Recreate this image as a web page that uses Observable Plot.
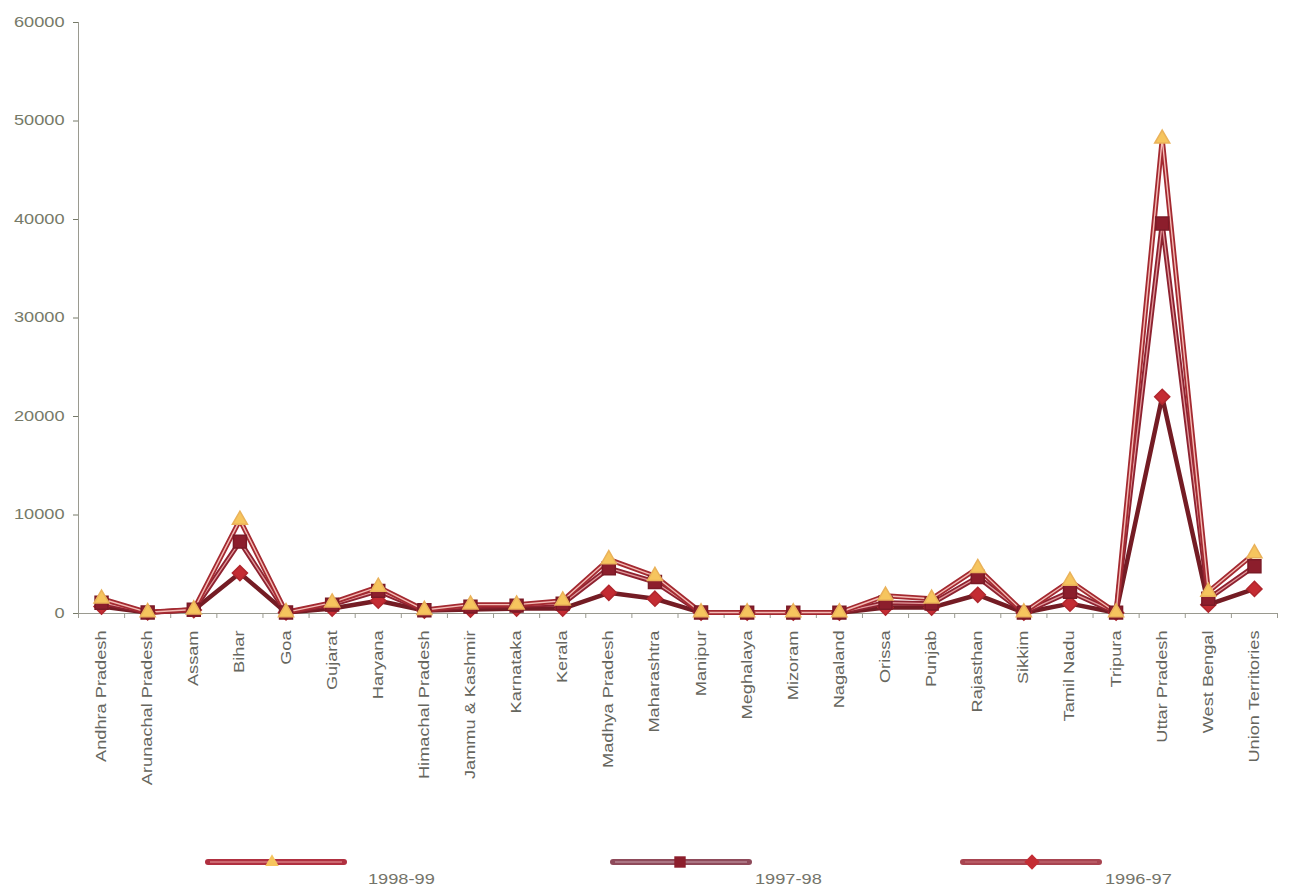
<!DOCTYPE html>
<html><head><meta charset="utf-8">
<script src="https://cdn.jsdelivr.net/npm/d3@7"></script>
<script src="https://cdn.jsdelivr.net/npm/@observablehq/plot@0.6"></script>
<style>
body{margin:0;background:#fff;font-family:"Liberation Sans",Arial,sans-serif;}
#legend{position:relative;height:55px;width:1289px}
.item{position:absolute;top:10px;height:45px}
.item span{position:absolute;top:21px;font-size:14px;color:#74746a;white-space:nowrap;transform:scaleX(1.3);transform-origin:0 50%}
</style></head><body><div id="chart"></div><div id="legend"></div>
<script>
const states = ["Andhra Pradesh","Arunachal Pradesh","Assam","Bihar","Goa","Gujarat","Haryana","Himachal Pradesh","Jammu & Kashmir","Karnataka","Kerala","Madhya Pradesh","Maharashtra","Manipur","Meghalaya","Mizoram","Nagaland","Orissa","Punjab","Rajasthan","Sikkim","Tamil Nadu","Tripura","Uttar Pradesh","West Bengal","Union Territories"];
const seriesNames = ["1998-99","1997-98","1996-97"];
const v1998 = [1500,120,400,9500,120,1100,2700,350,900,900,1300,5500,3800,100,100,100,100,1800,1500,4600,100,3300,100,48200,2200,6100];
const v1997 = [1100,110,380,7300,110,900,2300,330,700,800,1000,4600,3200,100,90,90,90,1100,1000,3700,90,2200,90,39600,1500,4800];
const v1996 = [700,100,350,4100,100,500,1300,300,400,500,500,2100,1500,90,80,80,80,600,600,1900,80,1000,80,22000,900,2500];
const yTicks = [0,10000,20000,30000,40000,50000,60000];
const values = [v1998, v1997, v1996];
</script>
<script>
const cats = states;
const data = seriesNames.flatMap((s,k)=>cats.map((st,i)=>({series:s,state:st,i,value:values[k][i]})));
const d98 = data.filter(d=>d.series===seriesNames[0]);
const d97 = data.filter(d=>d.series===seriesNames[1]);
const d96 = data.filter(d=>d.series===seriesNames[2]);
const n = cats.length;
const chart = Plot.plot({
  width:1289, height:840, marginLeft:78, marginRight:12, marginTop:22, marginBottom:227,
  style:{fontFamily:'"Liberation Sans",Arial,sans-serif', background:"#fff"},
  x:{domain:[-0.5, n-0.5], label:null},
  y:{domain:[0,60000], label:null},
  marks:[
    Plot.ruleY([0],{stroke:"#9a9a90"}),
    Plot.ruleX([-0.5],{stroke:"#9a9a90"}),
    Plot.axisY({ticks:yTicks, tickSize:5, tickPadding:9, fontSize:14, color:"#767a68", label:null, tickFormat:d=>String(d)}),
    Plot.axisX({ticks:d3.range(n), tickSize:0, tickPadding:17, tickRotate:-90, fontSize:14, color:"#66665e", label:null, tickFormat:i=>cats[i]}),
    Plot.axisX({ticks:d3.range(n+1).map(i=>i-0.5), tickSize:5, color:"#9a9a90", label:null, tickFormat:()=>""}),
    Plot.line(d96,{x:"i",y:"value",stroke:"#741c24",strokeWidth:4.5}),
    Plot.line(d97,{x:"i",y:"value",stroke:"#8e2230",strokeWidth:5}),
    Plot.line(d97,{x:"i",y:"value",stroke:"#e29a9c",strokeWidth:1.3}),
    Plot.line(d98,{x:"i",y:"value",stroke:"#a42a31",strokeWidth:5}),
    Plot.line(d98,{x:"i",y:"value",stroke:"#f4bcb6",strokeWidth:1.4}),
    Plot.dot(d96,{x:"i",y:"value",symbol:"diamond2",r:6.8,fill:"#c42c33",stroke:"#b0262d"}),
    Plot.dot(d97,{x:"i",y:"value",symbol:"square",r:7.3,fill:"#8c1e2c",stroke:"#7a1a26"}),
    Plot.dot(d98,{x:"i",y:"value",symbol:"triangle",r:5.6,fill:"#f6c55e",stroke:"#eab25a"})
  ]
});
document.getElementById("chart").append(chart);

function stretch(sel, k) {
  chart.querySelectorAll(sel).forEach(t => {
    const x = t.getAttribute("x");
    let tr = t.getAttribute("transform") || "";
    if (x && !isNaN(+x)) { tr += ` translate(${x},0)`; t.removeAttribute("x"); }
    t.setAttribute("transform", tr + ` scale(${k},1)`);
  });
}
stretch('g[aria-label="y-axis tick label"] text', 1.3);
stretch('g[aria-label="x-axis tick label"] text', 1.3);

// legend
const legendItems = [
  {name:seriesNames[0], left:205, symbol:d3.symbolTriangle, size:80, fill:"#f6c55e", line:"#b03040", inner:"#e9a0a0", mx:67, tx:163},
  {name:seriesNames[1], left:610, symbol:d3.symbolSquare, size:130, fill:"#8c1e2c", line:"#8e4a5a", inner:"#c8a0ac", mx:70, tx:145},
  {name:seriesNames[2], left:960, symbol:d3.symbolDiamond2, size:150, fill:"#c42c33", line:"#a84450", inner:"#c87078", mx:72, tx:145}
];
const lg = document.getElementById("legend");
for (const it of legendItems) {
  const div = document.createElement("div");
  div.className = "item";
  div.style.left = it.left + "px";
  const svg = d3.create("svg").attr("width",145).attr("height",30).style("position","absolute").style("left","0").style("top","0");
  svg.append("line").attr("x1",3).attr("x2",139).attr("y1",12).attr("y2",12).attr("stroke",it.line).attr("stroke-width",6).attr("stroke-linecap","round");
  svg.append("line").attr("x1",5).attr("x2",137).attr("y1",12).attr("y2",12).attr("stroke",it.inner).attr("stroke-width",1.2);
  svg.append("path").attr("d", d3.symbol(it.symbol, it.size)()).attr("transform",`translate(${it.mx},12)`).attr("fill",it.fill);
  div.append(svg.node());
  const sp = document.createElement("span");
  sp.textContent = it.name;
  sp.style.left = it.tx + "px";
  div.append(sp);
  lg.append(div);
}
</script>
</body></html>
